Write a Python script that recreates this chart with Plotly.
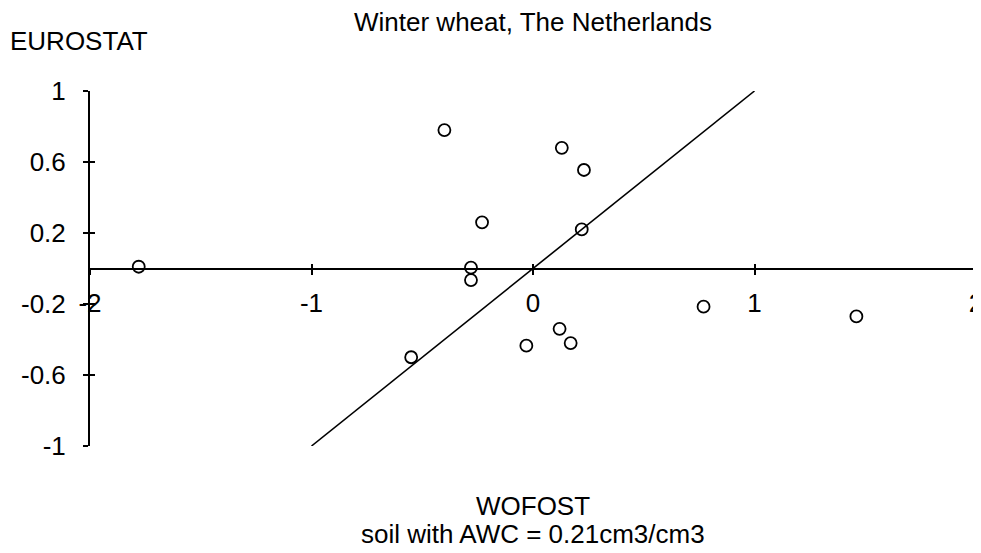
import plotly.graph_objects as go

# WOFOST vs EUROSTAT (standardised yield deviations)
wofost = [-1.78, -0.40, 0.13, 0.23, -0.23, 0.22, -0.28, -0.28, 0.12, -0.03, 0.17, -0.55, 0.77, 1.46]
eurostat = [0.01, 0.78, 0.68, 0.555, 0.26, 0.22, 0.005, -0.065, -0.34, -0.435, -0.42, -0.50, -0.215, -0.27]

# 1:1 line
line_x = [-1, 1]
line_y = [-1, 1]

x_ticks = [-2, -1, 0, 1, 2]
y_ticks = [1, 0.6, 0.2, -0.2, -0.6, -1]
y_tick_text = ["1", "0.6", "0.2", "-0.2", "-0.6", "-1"]

# page body has an 8px margin, so the figure is 8px smaller than the window
W, H = 973, 545
ML, MR, MT, MB = 82, 5, 83, 107
pw = W - ML - MR
ph = H - MT - MB

font = dict(family="Liberation Sans, Arial, sans-serif", size=26, color="black")

fig = go.Figure()

# the 1:1 line sits on the overlay axes so that they get drawn (crossing ticks)
fig.add_trace(go.Scatter(
    x=line_x, y=line_y,
    mode="lines",
    line=dict(color="black", width=1.6),
    xaxis="x2", yaxis="y2",
    showlegend=False,
))

fig.add_trace(go.Scatter(
    x=wofost, y=eurostat,
    mode="markers",
    marker=dict(symbol="circle-open", size=12, color="black", line=dict(width=1.8)),
    showlegend=False,
))

axis_common = dict(showgrid=False, zeroline=False, color="black", automargin=False)
tick_style = dict(ticklen=5, tickwidth=1.5, tickcolor="black")

fig.update_layout(
    width=W, height=H,
    margin=dict(l=ML, r=MR, t=MT, b=MB),
    paper_bgcolor="white",
    plot_bgcolor="white",
    font=font,
    title=dict(
        text="Winter wheat, The Netherlands",
        x=0.5, xref="paper", xanchor="center",
        y=1 - 14 / H, yref="container", yanchor="middle",
        font=font,
    ),
    xaxis=dict(
        range=[-2, 2], **axis_common,
        anchor="free", position=0.5,
        showline=True, linewidth=2, linecolor="black",
        tickvals=x_ticks, ticktext=[str(v) for v in x_ticks],
        ticks="outside", **tick_style,
        ticklabelstandoff=6, ticklabeloverflow="allow",
    ),
    xaxis2=dict(
        range=[-2, 2], **axis_common,
        overlaying="x", anchor="free", position=0.5,
        tickvals=x_ticks, showticklabels=False,
        ticks="inside", **tick_style,
    ),
    yaxis=dict(
        range=[-1, 1], **axis_common,
        showline=True, linewidth=2, linecolor="black",
        tickvals=y_ticks, ticktext=y_tick_text,
        ticks="outside", **tick_style,
        ticklabelstandoff=12,
    ),
    yaxis2=dict(
        range=[-1, 1], **axis_common,
        overlaying="y", anchor="x2",
        tickvals=y_ticks, showticklabels=False,
        ticks="inside", **tick_style,
    ),
)

fig.add_annotation(
    text="EUROSTAT", xref="paper", yref="paper",
    x=(0 - ML) / pw, y=1 + (MT - 33) / ph,
    xanchor="left", yanchor="middle", showarrow=False, font=font,
)
fig.add_annotation(
    text="WOFOST", xref="paper", yref="paper",
    x=0.5, y=-(498 - (H - MB)) / ph,
    xanchor="center", yanchor="middle", showarrow=False, font=font,
)
fig.add_annotation(
    text="soil with AWC = 0.21cm3/cm3", xref="paper", yref="paper",
    x=0.5, y=-(526 - (H - MB)) / ph,
    xanchor="center", yanchor="middle", showarrow=False, font=font,
)

fig.write_html("out.html")
